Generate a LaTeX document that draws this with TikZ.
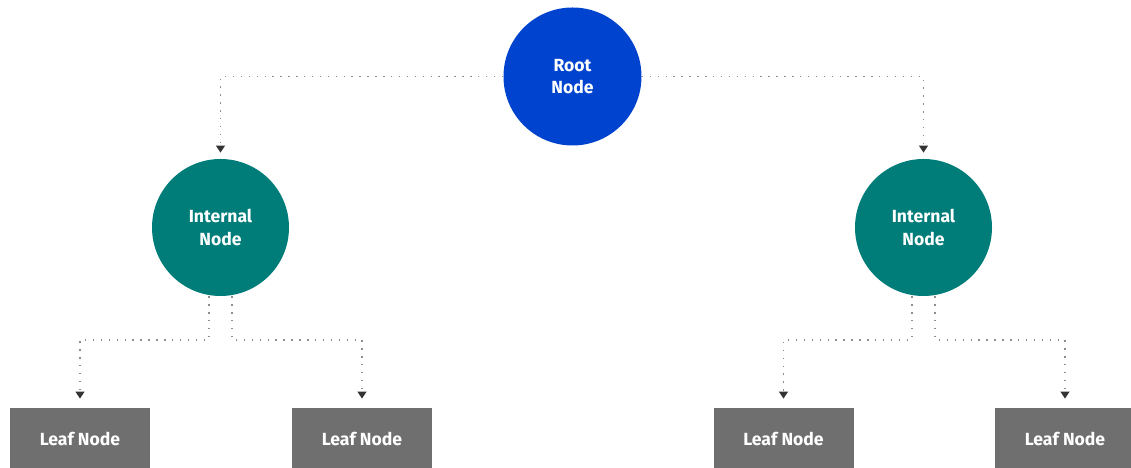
\documentclass[tikz,border=0pt]{standalone}
\usepackage{fontspec}
\setmainfont{Fira Sans}
\usepackage{xcolor}
\usepackage{tikz}
\usetikzlibrary{arrows.meta, positioning, calc}
\definecolor{tree-blue}{HTML}{0043CE}
\definecolor{tree-teal}{HTML}{007D79}
\definecolor{tree-gray}{HTML}{6F6F6F}
\definecolor{tree-line}{HTML}{8D8D8D}
\definecolor{tree-tip}{HTML}{333333}

\begin{document}
\begin{tikzpicture}[
    font=\fontsize{10}{13}\selectfont\bfseries,
    rootnode/.style={circle, fill=tree-blue, text=white, minimum size=2.76cm, align=center, inner sep=0pt},
    innernode/.style={circle, fill=tree-teal, text=white, minimum size=2.74cm, align=center, inner sep=0pt},
    leafnode/.style={rectangle, fill=tree-gray, text=white, minimum width=2.8cm, minimum height=1.24cm, inner sep=0pt},
    link/.style={tree-line, line width=0.9pt, dash pattern=on 0.8pt off 3.7pt,
        -{Triangle[width=5pt, length=4pt, color=tree-tip]}}
]
    % Canvas
    \useasboundingbox (0,0) rectangle (22.62,9.36);

    % Root
    \node[rootnode] (root) at (11.45,7.83) {Root\\Node};

    % Internal nodes
    \node[innernode] (intL) at (4.41,4.81) {Internal\\Node};
    \node[innernode] (intR) at (18.47,4.81) {Internal\\Node};

    % Leaves
    \foreach \name/\x in {leafA/1.6, leafB/7.24, leafC/15.67, leafD/21.3} {
        \node[leafnode] (\name) at (\x,0.58) {Leaf Node};
    }

    % Root to internal nodes
    \draw[link, shorten >=0.12cm] (root) -| (intL);
    \draw[link, shorten >=0.12cm] (root) -| (intR);

    % Internal nodes to leaves
    \foreach \src/\left/\right in {intL/leafA/leafB, intR/leafC/leafD} {
        \draw[link, shorten >=0.18cm] ([xshift=-0.23cm]\src.south) -- ++(0,-0.87) -| (\left);
        \draw[link, shorten >=0.18cm] ([xshift=0.23cm]\src.south) -- ++(0,-0.87) -| (\right);
    }
\end{tikzpicture}
\end{document}
